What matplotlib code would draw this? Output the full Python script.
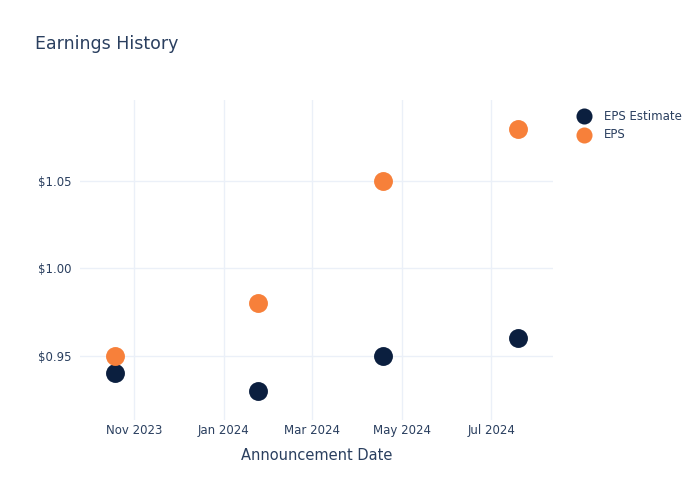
import matplotlib

matplotlib.use("Agg")
import matplotlib.dates as mdates
import matplotlib.pyplot as plt
import matplotlib.ticker as mticker
import pandas as pd

# data
dates = pd.to_datetime(["2023-10-19", "2024-01-24", "2024-04-18", "2024-07-19"])
eps_estimate = [0.94, 0.93, 0.95, 0.96]
eps_actual = [0.95, 0.98, 1.05, 1.08]
tick_dates = pd.to_datetime(["2023-11-01", "2024-01-01", "2024-03-01", "2024-05-01", "2024-07-01"])
y_ticks = [0.95, 1.00, 1.05]

TEXT = "#2a3f5f"
GRID = "#ebf0f8"
NAVY = "#0b1f3f"
ORANGE = "#f7803a"

fig = plt.figure(figsize=(7, 5), dpi=100)
ax = fig.add_axes([80 / 700, 80 / 500, 473 / 700, 320 / 500])

ax.scatter(dates, eps_estimate, s=185, color=NAVY, zorder=3, label="EPS Estimate", linewidths=0)
ax.scatter(dates, eps_actual, s=185, color=ORANGE, zorder=3, label="EPS", linewidths=0)

ax.set_xlim(pd.Timestamp("2023-09-25"), pd.Timestamp("2024-08-12"))
ax.set_ylim(0.9134, 1.0963)
ax.set_xticks(tick_dates)
ax.xaxis.set_major_formatter(mdates.DateFormatter("%b %Y"))
ax.set_yticks(y_ticks)
ax.yaxis.set_major_formatter(mticker.FuncFormatter(lambda v, _: f"${v:.2f}"))

ax.grid(True, color=GRID, linewidth=1)
ax.set_axisbelow(True)
for s in ax.spines.values():
    s.set_visible(False)
ax.tick_params(axis="x", length=0, labelsize=8.5, labelcolor=TEXT, pad=3)
ax.tick_params(axis="y", length=0, labelsize=8.5, labelcolor=TEXT, pad=6)
ax.set_xlabel("Announcement Date", fontsize=10.5, color=TEXT, labelpad=8)

fig.text(35 / 700, 1 - 44 / 500, "Earnings History", fontsize=12.5, color=TEXT, va="center")

ax.legend(loc="upper left", bbox_to_anchor=(1.03, 0.985), frameon=False, fontsize=8.5,
          labelcolor=TEXT, handletextpad=0.7, borderaxespad=0, labelspacing=0.5,
          markerscale=0.85)

fig.savefig("out.png", dpi=100)
